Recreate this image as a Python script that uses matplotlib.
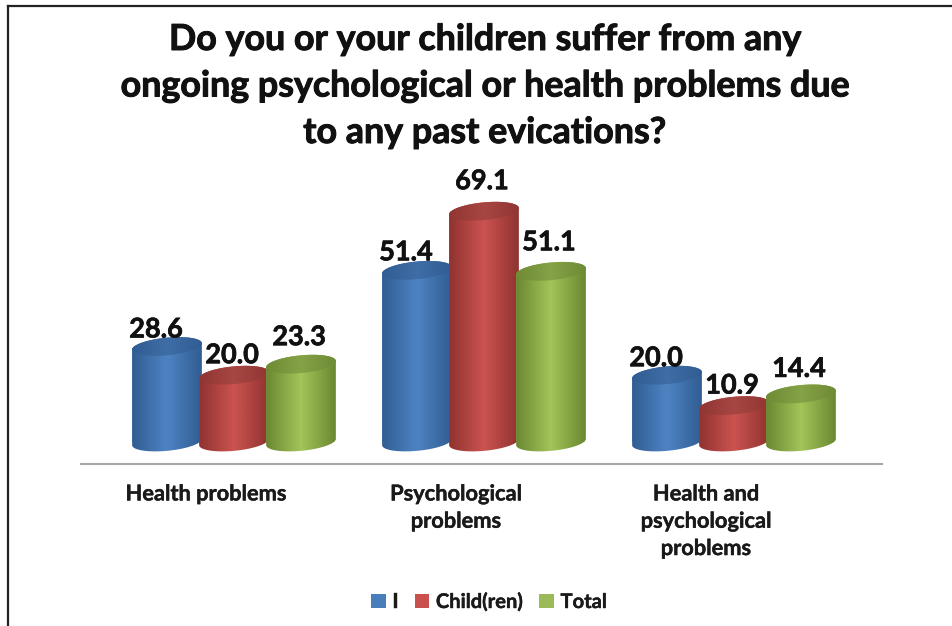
import numpy as np
import matplotlib
matplotlib.use("Agg")
import matplotlib.pyplot as plt
from matplotlib.colors import LinearSegmentedColormap
from matplotlib.patches import Polygon, Patch
from matplotlib.lines import Line2D
from matplotlib.transforms import ScaledTranslation
import matplotlib.patheffects as pe

title = "Do you or your children suffer from any\nongoing psychological or health problems due\nto any past evications?"
categories = ["Health problems", "Psychological\nproblems", "Health and\npsychological\nproblems"]
series_names = ["I", "Child(ren)", "Total"]
series_i = [28.6, 51.4, 20.0]
series_child = [20.0, 69.1, 10.9]
series_total = [23.3, 51.1, 14.4]
series = [series_i, series_child, series_total]

# style: (edge, centre, top-edge, top-centre, legend)
styles = [
    ("#2f5b8f", "#4e83c3", "#2f5c92", "#3f6da5", "#4a7ebb"),
    ("#8c312e", "#cb5350", "#8f3532", "#a84643", "#c9504d"),
    ("#67842f", "#a3c459", "#6d8a35", "#85a246", "#9bbb59"),
]
label_dx = [-11, -2, -2]          # px
label_dy = [[17, 18, 17], [20, 30, 20], [27, 29, 25]]  # px

W, H = 953, 626
fig = plt.figure(figsize=(W / 100, H / 100), dpi=100, facecolor="white")
plt.rcParams["font.family"] = ["Lato", "DejaVu Sans"]
stroke = [pe.withStroke(linewidth=0.5, foreground="#111111")]

ax_l, ax_r, ax_b, ax_t = 81, 882, 464, 150
ax = fig.add_axes([ax_l / W, 1 - ax_b / H, (ax_r - ax_l) / W, (ax_b - ax_t) / H])
ppx = 250.0          # px per category
ppy = 3.34           # px per value unit
zero_px = 442
red_centre = 234
ax.set_xlim((ax_l - red_centre) / ppx, (ax_r - red_centre) / ppx)
ax.set_ylim((zero_px - ax_b) / ppy, (zero_px - ax_t) / ppy)

bar_w = 69 / ppx
step = 67 / ppx
a, b = 35.0, 8.8
theta = np.radians(5.5)


def ell(cx, cy, t):
    """Tilted ellipse points: centre in data units, radii in px."""
    dx = a * np.cos(t) * np.cos(theta) - b * np.sin(t) * np.sin(theta)
    dy = a * np.cos(t) * np.sin(theta) + b * np.sin(t) * np.cos(theta)
    return np.column_stack([cx + dx / ppx, cy + dy / ppy])


t0 = np.arctan2(-b * np.sin(theta), a * np.cos(theta))
up = np.linspace(t0, t0 + np.pi, 80)
down = np.linspace(t0 + np.pi, t0 + 2 * np.pi, 80)
full = np.linspace(0, 2 * np.pi, 160)

x_cat = np.arange(len(categories))
z = 2
for s, vals in enumerate(series):
    edge, mid, tedge, tmid, leg = styles[s]
    cm_body = LinearSegmentedColormap.from_list("b", [edge, mid, edge], N=256)
    cm_top = LinearSegmentedColormap.from_list("t", [tedge, tmid, tedge], N=256)
    grad = np.linspace(0, 1, 256).reshape(1, -1)
    xs = x_cat + (s - 1) * step
    bars = ax.bar(xs, vals, width=bar_w, color=mid, linewidth=0, zorder=z)
    for xc, v, bar in zip(xs, vals, bars):
        sil = Polygon(np.vstack([ell(xc, v, up), ell(xc, 0, down)]), closed=True, transform=ax.transData)
        bar.set_clip_path(sil)
        ext = (xc - 37 / ppx, xc + 37 / ppx, -12 / ppy, v + 12 / ppy)
        im = ax.imshow(grad, cmap=cm_body, extent=ext, aspect="auto", zorder=z + 0.1)
        im.set_clip_path(sil)
        top = Polygon(ell(xc, v, full), closed=True, transform=ax.transData)
        im2 = ax.imshow(grad, cmap=cm_top, extent=ext, aspect="auto", zorder=z + 0.2)
        im2.set_clip_path(top)
        z += 1
    for i, (xc, v) in enumerate(zip(xs, vals)):
        ax.annotate(f"{v:.1f}", (xc, v), xytext=(label_dx[s] * 0.72, label_dy[s][i] * 0.72),
                    textcoords="offset points", ha="center", va="center",
                    fontsize=19.5, fontweight="bold", color="#111111", zorder=50, path_effects=stroke)

ax.set_xlim((ax_l - red_centre) / ppx, (ax_r - red_centre) / ppx)
ax.set_ylim((zero_px - ax_b) / ppy, (zero_px - ax_t) / ppy)
ax.patch.set_alpha(0)
for sp in ["top", "left", "right"]:
    ax.spines[sp].set_visible(False)
ax.spines["bottom"].set_color("#a6a6a6")
ax.spines["bottom"].set_linewidth(1.5)
ax.set_yticks([])
ax.set_xticks(x_cat)
ax.set_xticklabels(categories, fontsize=15.7, fontweight="bold", color="#1a1a1a", linespacing=1.37)
ax.tick_params(axis="x", length=0, pad=14)
off = ScaledTranslation(-28 / 100, 0, fig.dpi_scale_trans)
for lab in ax.get_xticklabels():
    lab.set_transform(lab.get_transform() + off)
    lab.set_path_effects([pe.withStroke(linewidth=0.3, foreground="#1a1a1a")])

fig.text(485 / W, 1 - 86 / H, title, ha="center", va="center", fontsize=25.8, fontweight="bold",
         color="#111111", linespacing=1.5, path_effects=[pe.withStroke(linewidth=0.7, foreground="#111111")])

handles = [Patch(facecolor=st[4], edgecolor="none") for st in styles]
leg = fig.legend(handles, series_names, loc="center", bbox_to_anchor=(489 / W, 1 - 602 / H), ncol=3, frameon=False,
                 prop={"size": 14.5, "weight": "bold"}, handlelength=0.74, handleheight=0.74,
                 handletextpad=0.32, columnspacing=0.8, labelcolor="#1a1a1a")
for t in leg.get_texts():
    t.set_path_effects([pe.withStroke(linewidth=0.3, foreground="#1a1a1a")])

fig.add_artist(Line2D([8 / W, 8 / W], [0, 1 - 6 / H], color="#222222", lw=1.6))
fig.add_artist(Line2D([8 / W, 1], [1 - 6 / H, 1 - 6 / H], color="#222222", lw=1.6))

fig.savefig("out.png", dpi=100)
